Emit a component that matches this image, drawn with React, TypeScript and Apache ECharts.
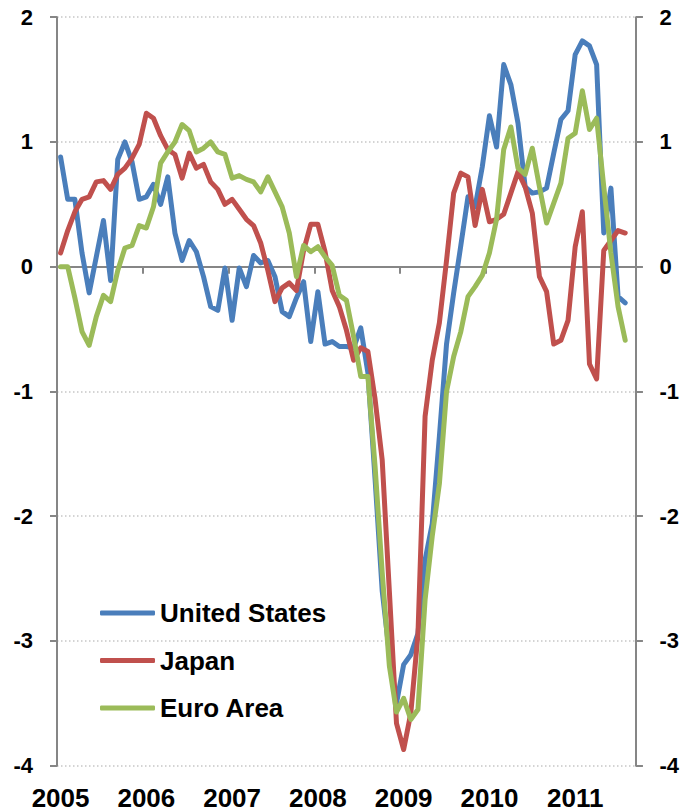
import React, { useEffect, useRef } from "react";
import * as echarts from "echarts";

// Monthly categories Jan 2005 – Sep 2011 (last month has no data)
const years = ["2005", "2006", "2007", "2008", "2009", "2010", "2011"];
const monthsPerYear = ["01", "02", "03", "04", "05", "06", "07", "08", "09", "10", "11", "12"];
const lastYearMonths = 9;

const categories: string[] = [];
years.forEach((y, yi) => {
  const n = yi === years.length - 1 ? lastYearMonths : 12;
  for (let m = 0; m < n; m++) categories.push(`${y}-${monthsPerYear[m]}`);
});

const unitedStates = [
  0.88, 0.54, 0.54, 0.11, -0.21, 0.08, 0.37, -0.11, 0.86, 1.0, 0.84, 0.54,
  0.56, 0.66, 0.5, 0.72, 0.27, 0.05, 0.21, 0.12, -0.08, -0.32, -0.35, -0.01,
  -0.43, -0.01, -0.16, 0.09, 0.03, 0.05, -0.08, -0.36, -0.4, -0.25, -0.12, -0.6,
  -0.2, -0.62, -0.6, -0.64, -0.64, -0.65, -0.49, -0.85, -1.7, -2.6, -3.1, -3.5,
  -3.19, -3.11, -2.94, -2.35, -2.06, -1.36, -0.62, -0.21, 0.17, 0.56, 0.48, 0.8,
  1.21, 0.96, 1.62, 1.46, 1.15, 0.64, 0.59, 0.6, 0.63, 0.91, 1.18, 1.25,
  1.7, 1.81, 1.77, 1.62, 0.27, 0.63, -0.24, -0.29,
];

const japan = [
  0.11, 0.29, 0.44, 0.54, 0.56, 0.68, 0.69, 0.62, 0.74, 0.79, 0.87, 0.98,
  1.23, 1.19, 1.05, 0.94, 0.9, 0.71, 0.91, 0.79, 0.82, 0.68, 0.62, 0.5,
  0.54, 0.46, 0.38, 0.33, 0.19, -0.03, -0.28, -0.17, -0.13, -0.19, 0.13, 0.34,
  0.34, 0.12, -0.19, -0.32, -0.51, -0.75, -0.65, -0.68, -1.06, -1.55, -2.6, -3.66,
  -3.87, -3.58, -2.95, -1.2, -0.75, -0.45, 0.05, 0.59, 0.75, 0.72, 0.33, 0.62,
  0.36, 0.38, 0.42, 0.59, 0.76, 0.64, 0.43, -0.08, -0.2, -0.62, -0.59, -0.43,
  0.16, 0.44, -0.78, -0.9, 0.13, 0.21, 0.29, 0.27,
];

const euroArea = [
  0.0, 0.0, -0.25, -0.52, -0.63, -0.4, -0.23, -0.28, -0.03, 0.15, 0.17, 0.33,
  0.31, 0.48, 0.83, 0.92, 1.0, 1.14, 1.09, 0.92, 0.95, 1.0, 0.92, 0.9,
  0.71, 0.73, 0.7, 0.68, 0.6, 0.72, 0.6, 0.48, 0.27, -0.08, 0.17, 0.12,
  0.16, 0.08, 0.01, -0.23, -0.27, -0.56, -0.88, -0.88, -1.6, -2.45, -3.2, -3.57,
  -3.46, -3.63, -3.55, -2.67, -2.16, -1.74, -1.0, -0.72, -0.52, -0.24, -0.16, -0.07,
  0.11, 0.38, 0.94, 1.12, 0.79, 0.74, 0.95, 0.64, 0.35, 0.51, 0.67, 1.03,
  1.07, 1.41, 1.1, 1.19, 0.64, 0.11, -0.32, -0.59,
];

const seriesNames = ["United States", "Japan", "Euro Area"];
const seriesColors = ["#4A7EBB", "#C0504D", "#9BBB59"];
const seriesData = [unitedStates, japan, euroArea];

const FONT = "'Liberation Sans', Arial, Helvetica, sans-serif";
const AXIS_GRAY = "#868686";

export default function App() {
  const ref = useRef<HTMLDivElement>(null);

  useEffect(() => {
    if (!ref.current) return;
    const chart = echarts.init(ref.current, null, { renderer: "svg" });

    const yAxisCommon = {
      type: "value" as const,
      min: -4,
      max: 2,
      interval: 1,
      axisLine: { show: true, lineStyle: { color: AXIS_GRAY, width: 2 } },
      axisTick: { show: true, inside: false, length: 7, lineStyle: { color: AXIS_GRAY, width: 2 } },
    };

    chart.setOption({
      animation: false,
      backgroundColor: "#ffffff",
      textStyle: { fontFamily: FONT },
      grid: { left: 57, right: 45.5, top: 17.2, bottom: 46.3, containLabel: false },
      legend: {
        orient: "vertical",
        left: 95,
        top: 595,
        padding: 5,
        icon: "roundRect",
        itemWidth: 55,
        itemHeight: 5,
        itemGap: 21.5,
        data: seriesNames,
        textStyle: { fontFamily: FONT, fontSize: 26, fontWeight: "bold", color: "#000" },
      },
      xAxis: [
        {
          type: "category",
          data: categories,
          boundaryGap: true,
          axisLine: { show: true, onZero: true, lineStyle: { color: AXIS_GRAY, width: 2 } },
          axisTick: {
            show: true,
            length: 7,
            interval: (idx: number) => idx % 12 === 0,
            lineStyle: { color: AXIS_GRAY, width: 2 },
          },
          axisLabel: { show: false },
          splitLine: { show: false },
        },
        {
          type: "category",
          data: categories,
          position: "bottom",
          boundaryGap: true,
          axisLine: { show: false, onZero: false },
          axisTick: { show: false },
          axisLabel: {
            show: true,
            interval: (idx: number) => idx % 12 === 0,
            formatter: (v: string) => v.slice(0, 4),
            margin: 19,
            fontFamily: FONT,
            fontSize: 26,
            fontWeight: "bold",
            color: "#000",
          },
          splitLine: { show: false },
        },
      ],
      yAxis: [
        {
          ...yAxisCommon,
          position: "left",
          axisLabel: { margin: 24, fontFamily: FONT, fontSize: 22, fontWeight: "bold", color: "#000" },
          splitLine: { show: true, lineStyle: { color: "#c6c6c6", width: 1.5, type: [1.5, 2.5] } },
        },
        {
          ...yAxisCommon,
          position: "right",
          axisLabel: { margin: 23.5, fontFamily: FONT, fontSize: 22, fontWeight: "bold", color: "#000" },
          splitLine: { show: false },
        },
      ],
      series: seriesNames.map((name, i) => ({
        name,
        type: "line",
        xAxisIndex: 0,
        yAxisIndex: 0,
        data: seriesData[i],
        symbol: "none",
        showSymbol: false,
        smooth: false,
        color: seriesColors[i],
        itemStyle: { color: seriesColors[i] },
        lineStyle: { color: seriesColors[i], width: 5, cap: "round", join: "round" },
        z: 3 + i,
      })),
    });

    return () => chart.dispose();
  }, []);

  return (
    <div
      ref={ref}
      style={{ position: "fixed", left: 0, top: 0, width: 682, height: 812, background: "#fff" }}
    />
  );
}
